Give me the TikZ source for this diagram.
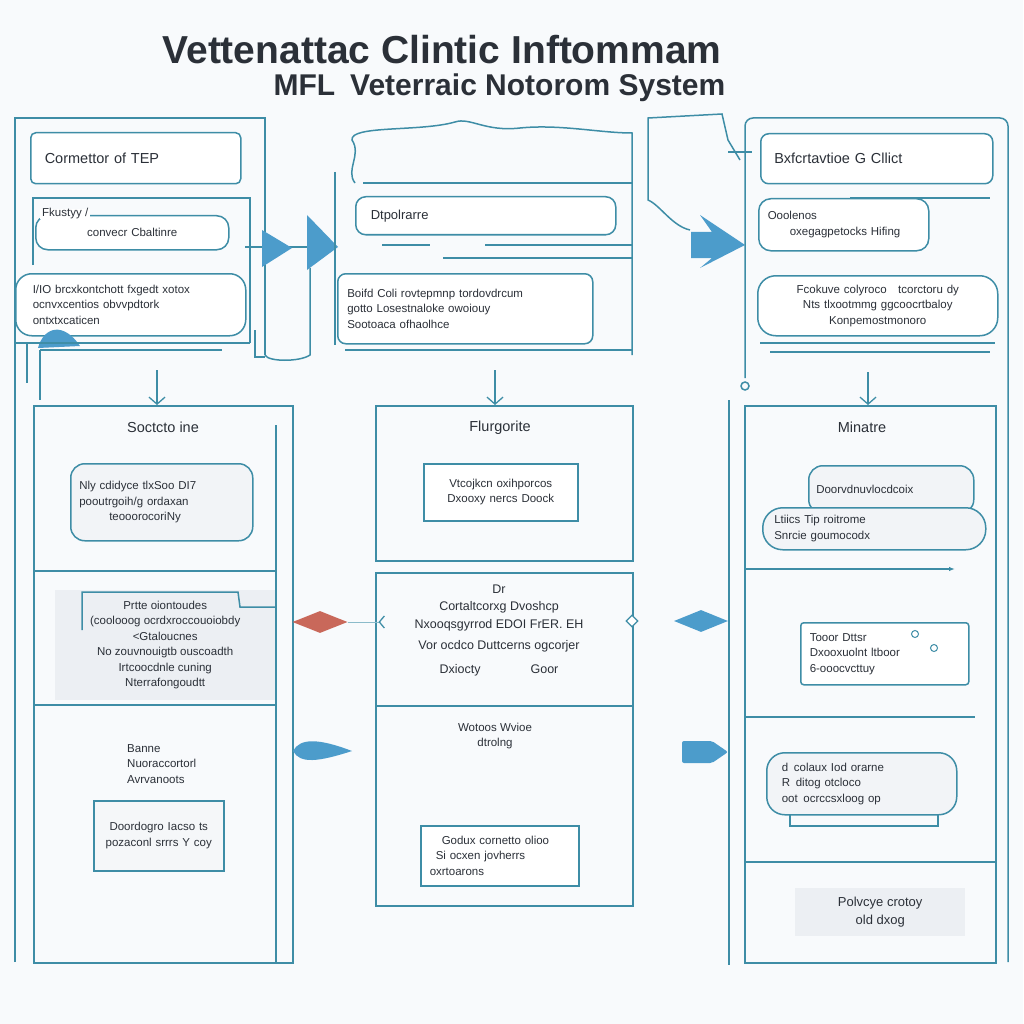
\documentclass[tikz,border=0pt]{standalone}
\usepackage{fontspec}
\setmainfont{Liberation Sans}
\usepackage{xcolor}
\usetikzlibrary{arrows.meta, shapes.geometric}
\definecolor{rimcol}{HTML}{3E8DA6}
\definecolor{fillcol}{HTML}{4C9CCB}
\definecolor{redcol}{HTML}{C9685A}
\definecolor{greycol}{HTML}{ECEFF3}
\definecolor{inkcol}{HTML}{2B3038}
\definecolor{pagecol}{HTML}{F8FAFC}
\newcommand\smalltxt{\fontsize{11.5}{15.5}\selectfont}
\newcommand\headtxt{\fontsize{14.5}{17}\selectfont}
\newcommand\titletxt{\fontsize{39}{44}\selectfont\bfseries}
\newcommand\subtxt{\fontsize{30}{34}\selectfont\bfseries}

\begin{document}
\begin{tikzpicture}[x=1pt, y=-1pt, text=inkcol,
        rim/.style={draw=rimcol, line width=1.5pt},
        panel/.style={rim, inner sep=0pt},
        box/.style={rim, fill=white, rounded corners=5pt, inner sep=0pt, font=\smalltxt},
        bubble/.style={box, rounded corners=14pt, fill=greycol!70},
        txt/.style={font=\smalltxt, align=center, inner sep=0pt},
        head/.style={font=\headtxt, inner sep=0pt},
        gem/.style={diamond, inner sep=0pt},
        drop/.style={draw=rimcol, line width=1.3pt, -{Straight Barb[length=7pt, width=16pt]}},
        link/.style={draw=rimcol!60, line width=0.8pt}
        ]
        \fill[pagecol] (0,0) rectangle (1023,1024);
        \useasboundingbox (0,0) rectangle (1023,1024);

        \node[font=\titletxt] (title) at (442,50) {Vettenattac Clintic Inftommam};
        \node[font=\subtxt, anchor=west] (subtitle) at (270,88) {MFL\enspace Veterraic Notorom System};

        \draw[rim] (15,962) -- (15,118) -- (265,118) -- (265,355);
        \node[box, anchor=north west, minimum width=210, minimum height=51, text width=182, align=left, font=\headtxt] (tep) at (30,132) {Cormettor of TEP};
        \draw[rim] (33,265) -- (33,198) -- (250,198) -- (250,343);
        \node[box, anchor=north west, minimum width=193, minimum height=34, rounded corners=12pt, text width=150, align=center] (custody) at (35,215) {convecr Cbaltinre};
        \node[txt, anchor=west, fill=white, inner xsep=2pt] (custodylab) at (40,214) {Fkustyy /};
        \node[box, anchor=north west, minimum width=230, minimum height=62, rounded corners=16pt, text width=196, align=left] (ionote) at (15,273) {I/IO brcxkontchott fxgedt xotox\\ ocnvxcentios obvvpdtork\\ ontxtxcaticen};
        \fill[fillcol] (38,348) .. controls (44,326) and (64,322) .. (80,346) -- cycle;
        \draw[rim] (15,343) -- (250,343);
        \draw[rim] (40,350) -- (222,350);
        \draw[rim] (40,350) -- (40,400);
        \draw[rim] (27,343) -- (27,383);
        \draw[rim] (255,330) -- (255,357) -- (265,357);
        \draw[rim] (265,355) .. controls (268,362) and (300,362) .. (310,355) -- (310,268);

        \coordinate (flowA) at (245,247);
        \coordinate (flowB) at (307,247);
        \draw[rim] (flowA) -- (flowB);
        \fill[fillcol] (262,230) -- (292,248) -- (262,267) -- cycle;
        \fill[fillcol] (307,215) -- (338,247) -- (307,270) -- cycle;

        \draw[rim] (335,172) -- (335,345);
        \draw[rim] (355,183) .. controls (345,170) and (362,155) .. (352,140) .. controls (350,125) and (420,132) .. (455,122) .. controls (470,117) and (485,132) .. (520,128) .. controls (560,124) and (600,133) .. (632,133) -- (632,355);
        \draw[rim] (363,183) -- (632,183);
        \node[box, anchor=north west, minimum width=260, minimum height=38, rounded corners=10pt, text width=230, align=left, font=\fontsize{13}{15}\selectfont] (dtpol) at (355,196) {Dtpolrarre};
        \draw[rim] (382,245) -- (430,245);
        \draw[rim] (485,245) -- (632,245);
        \draw[rim] (443,258) -- (632,258);
        \node[box, anchor=north west, minimum width=255, minimum height=70, rounded corners=8pt, text width=236, align=left] (boifd) at (337,273) {Boifd Coli rovtepmnp tordovdrcum\\ gotto Losestnaloke owoiouy\\ Sootoaca ofhaolhce};
        \draw[rim] (345,350) -- (632,350);

        \draw[rim] (740,160) -- (728,140) -- (722,114) -- (648,118) -- (648,200) .. controls (660,205) and (672,226) .. (690,230);
        \draw[rim] (728,152) -- (752,152);
        \fill[fillcol] (691,232) -- (712,232) -- (700,215) -- (745,245) -- (700,268) -- (712,258) -- (691,258) -- cycle;

        \draw[rim, rounded corners=8pt] (745,378) -- (745,118) -- (1008,118) -- (1008,962);
        \draw[rim] (745,386) circle (4);
        \node[box, anchor=north west, minimum width=232, minimum height=50, rounded corners=8pt, text width=205, align=left, font=\headtxt] (clict) at (760,133) {Bxfcrtavtioe G Cllict};
        \draw[rim] (850,198) -- (990,198);
        \node[box, anchor=north west, minimum width=170, minimum height=52, rounded corners=12pt, text width=152, align=left] (oolen) at (758,198) {Ooolenos\\ \hspace*{22pt}oxegagpetocks Hifing};
        \node[box, anchor=north west, minimum width=240, minimum height=60, rounded corners=18pt, text width=222, align=center] (fcok) at (757,275) {Fcokuve colyroco\quad tcorctoru dy\\ Nts tlxootmmg ggcoocrtbaloy\\ Konpemostmonoro};
        \draw[rim] (760,343) -- (995,343);
        \draw[rim] (770,352) -- (990,352);

        \node[panel, anchor=north west, minimum width=259, minimum height=557] (colA) at (33,405) {};
        \draw[rim] (276,425) -- (276,962);
        \draw[rim] (33,571) -- (276,571);
        \draw[rim] (33,705) -- (276,705);
        \node[head] (soct) at (163,427) {Soctcto ine};
        \node[bubble, anchor=north west, minimum width=182, minimum height=77, text width=165] (nly) at (70,463) {Nly cdidyce tlxSoo DI7\\ pooutrgoih/g ordaxan\\ \hspace*{30pt}teooorocoriNy};
        \node[fill=greycol, anchor=north west, minimum width=220, minimum height=110, inner sep=0pt, align=center, font=\smalltxt] (prtte) at (55,590) {Prtte oiontoudes\\ (coolooog ocrdxroccouoiobdy\\ <Gtaloucnes\\ No zouvnouigtb ouscoadth\\ Irtcoocdnle cuning\\ Nterrafongoudtt};
        \draw[rim] (82,630) -- (82,592) -- (238,592) -- (240,607) -- (276,607);
        \node[txt, anchor=west, align=left] (banne) at (127,764) {Banne\\ Nuoraccortorl\\ Avrvanoots};
        \node[box, rounded corners=0pt, fill=greycol!50, anchor=north west, minimum width=130, minimum height=70, text width=126, align=center] (doord) at (93,800) {Doordogro Iacso ts\\ pozaconl srrrs Y coy};

        \node[panel, anchor=north west, minimum width=257, minimum height=155] (flur) at (375,405) {};
        \node[head] (flurlab) at (500,428) {Flurgorite};
        \node[box, rounded corners=0pt, anchor=north west, minimum width=154, minimum height=57, text width=140, align=center] (vtco) at (423,463) {Vtcojkcn oxihporcos\\ Dxooxy nercs Doock};
        \node[panel, anchor=north west, minimum width=257, minimum height=133] (dosh) at (375,572) {};
        \node[txt, font=\fontsize{12.5}{17.5}\selectfont] (doshlab) at (499,630) {Dr\\ Cortaltcorxg Dvoshcp\\ Nxooqsgyrrod EDOI FrER. EH\\[3.5pt] Vor ocdco Duttcerns ogcorjer\\[6.5pt] Dxiocty\hspace{50pt}Goor};
        \node[panel, anchor=north west, minimum width=257, minimum height=200] (wotoo) at (375,705) {};
        \node[txt] (wotoolab) at (495,736) {Wotoos Wvioe\\ dtrolng};
        \node[box, rounded corners=0pt, anchor=north west, minimum width=158, minimum height=60, text width=140, align=left] (godux) at (420,825) {\hspace*{12pt}Godux cornetto olioo\\ \hspace*{6pt}Si ocxen jovherrs\\ oxrtoarons};

        \draw[rim] (729,400) -- (729,965);
        \node[panel, anchor=north west, minimum width=251, minimum height=557] (colC) at (744,405) {};
        \draw[rim, -{Latex[length=6pt]}] (744,569) -- (955,569);
        \draw[rim] (744,717) -- (975,717);
        \draw[rim] (744,862) -- (995,862);
        \node[head] (minlab) at (862,427) {Minatre};
        \node[box, rounded corners=14pt, fill=greycol!70, anchor=north west, minimum width=165, minimum height=48, text width=150, align=left] (doorv) at (808,465) {Doorvdnuvlocdcoix};
        \node[bubble, rounded corners=20pt, anchor=north west, minimum width=223, minimum height=42, text width=200] (ltiics) at (762,507) {Ltiics Tip roitrome\\ Snrcie goumocodx};
        \node[box, rounded corners=3pt, anchor=north west, minimum width=168, minimum height=62, text width=150, align=left] (tooor) at (800,622) {Tooor Dttsr\\ Dxooxuolnt ltboor\\ 6-ooocvcttuy};
        \draw[rim, line width=1pt] (915,634) circle (3.5);
        \draw[rim, line width=1pt] (934,648) circle (3.5);
        \draw[rim] (790,812) -- (790,826) -- (938,826) -- (938,812);
        \node[bubble, rounded corners=18pt, anchor=north west, minimum width=190, minimum height=62, text width=160, align=left] (colaux) at (766,752) {d\enspace colaux Iod orarne\\ R\enspace ditog otcloco\\ oot\enspace ocrccsxloog op};
        \node[fill=greycol, anchor=north west, minimum width=170, minimum height=48, inner sep=0pt, align=center, font=\fontsize{13}{18}\selectfont] (polv) at (795,888) {Polvcye crotoy\\ old dxog};

        \coordinate (dA) at (157,370);
        \coordinate (dB) at (495,370);
        \coordinate (dC) at (868,372);
        \draw[drop] (dA) -- (dA |- colA.north);
        \draw[drop] (dB) -- (dB |- flur.north);
        \draw[drop] (dC) -- (dC |- colC.north);

        \node[gem, fill=redcol, minimum width=55, minimum height=22] (redgem) at (320,622) {};
        \draw[link, -{Straight Barb[reversed, length=5pt, width=12pt, line width=1.3pt, color=rimcol]}] (redgem.east) -- ([xshift=10pt]redgem.east -| dosh.west);
        \node[gem, draw=rimcol, fill=white, line width=1.3pt, minimum width=12, minimum height=12] (smallgem) at (632,621) {};
        \node[gem, fill=fillcol, minimum width=54, minimum height=22] (bluegem) at (701,621) {};
        \fill[fillcol] (293,751) .. controls (300,738) and (318,738) .. (352,751) .. controls (318,762) and (300,764) .. cycle;
        \fill[fillcol, rounded corners=2pt] (682,741) -- (712,741) -- (728,752) -- (712,763) -- (682,763) -- cycle;
    \end{tikzpicture}
\end{document}
